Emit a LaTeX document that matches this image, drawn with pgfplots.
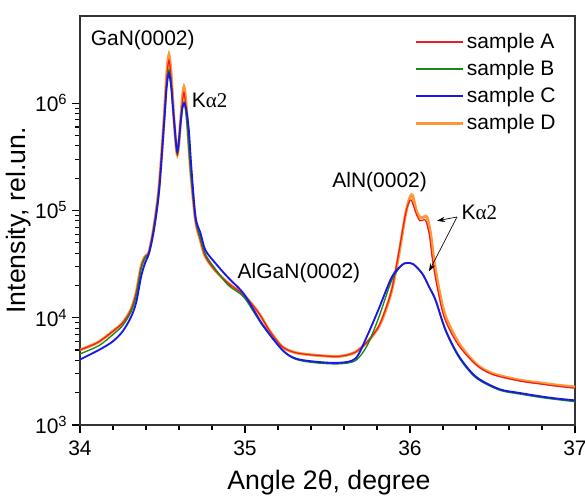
\documentclass[border=0pt]{standalone}
\usepackage{fontspec}
\setmainfont{Liberation Sans}
\newfontfamily\serif{Liberation Serif}
\usepackage{pgfplots}
\pgfplotsset{compat=1.18}
\usetikzlibrary{arrows.meta}

\definecolor{sampleA}{RGB}{235,30,35}
\definecolor{sampleB}{RGB}{25,135,30}
\definecolor{sampleC}{RGB}{25,25,230}
\definecolor{sampleD}{RGB}{255,150,55}

\newcommand{\tfont}{\fontsize{15.75}{18}\selectfont}
\newcommand{\lfont}{\fontsize{20}{24}\selectfont}

\begin{document}
\begin{tikzpicture}
\begin{axis}[
  scale only axis,
  width=371.25pt, height=306.75pt,
  ymode=log,
  xmin=34, xmax=37,
  ymin=1000, ymax=6.5e6,
  xtick={34,35,36,37},
  minor x tick num=4,
  ytick={1e3,1e4,1e5,1e6},
  yticklabels={10\textsuperscript{3},10\textsuperscript{4},10\textsuperscript{5},10\textsuperscript{6}},
  xtick pos=bottom, ytick pos=left,
  tick align=outside,
  major tick length=6pt, minor tick length=3.5pt,
  every tick/.style={black, line width=0.8pt},
  axis line style={line width=1pt, black!80},
  tick label style={font=\tfont},
  xticklabel style={yshift=-2pt},
  /pgf/number format/assume math mode=true,
  xlabel={Angle 2θ, degree},
  ylabel={Intensity, rel.un.},
  label style={font=\lfont},
  xlabel style={at={(axis description cs:0.503,-0.142)}, anchor=center},
  ylabel style={at={(axis description cs:-0.125,0.5)}, anchor=center},
  legend style={at={(axis description cs:0.675,0.965)}, anchor=north west,
    draw=none, fill=none, font=\tfont, row sep=3.4pt, inner sep=0pt},
  legend cell align=left,
  legend image code/.code={\draw[#1] (0pt,0pt) -- (35.25pt,0pt);},
  every axis plot/.append style={smooth, tension=0.5},
]
% sample D (drawn first, underneath)
\addplot[draw=sampleD, line width=2.2pt, forget plot] coordinates {
(34.00,5012) (34.06,5450) (34.115,5970) (34.196,7413) (34.257,8913)
(34.307,11750) (34.34,16980) (34.37,29850) (34.394,37150) (34.418,41210)
(34.448,70790) (34.479,165960) (34.509,691800) (34.525,1.8e6) (34.539,2.818e6)
(34.553,1.8e6) (34.57,691800) (34.59,331100) (34.61,691800) (34.62,1.1e6)
(34.63,1.413e6) (34.64,1.1e6) (34.65,691800) (34.67,237700) (34.70,81280)
(34.73,52480) (34.76,37150) (34.82,27540) (34.90,20890) (34.994,16220)
(35.085,10960) (35.15,7500) (35.226,5370) (35.307,4721) (35.43,4467)
(35.57,4365) (35.67,4786) (35.75,6166) (35.81,8200) (35.85,11500)
(35.89,18200) (35.93,37150) (35.97,87100) (35.994,125000) (36.014,139000)
(36.04,97700) (36.065,85100) (36.09,88100) (36.105,85100) (36.125,60260)
(36.145,34670) (36.176,18200) (36.216,10230) (36.297,5754) (36.40,3715)
(36.50,3020) (36.66,2630) (36.80,2455) (36.90,2344) (37.00,2265)
};
% sample A
\addplot[draw=sampleA, line width=0.9pt, forget plot] coordinates {
(34.00,5012) (34.06,5450) (34.115,5970) (34.196,7413) (34.257,8913)
(34.307,11750) (34.34,16980) (34.37,29850) (34.394,37150) (34.418,41210)
(34.448,70790) (34.479,165960) (34.509,691800) (34.525,1.65e6) (34.539,2.512e6)
(34.553,1.65e6) (34.57,691800) (34.59,331100) (34.61,691800) (34.62,1.0e6)
(34.63,1.259e6) (34.64,1.0e6) (34.65,691800) (34.67,237700) (34.70,81280)
(34.73,52480) (34.76,37150) (34.82,27540) (34.90,20890) (34.994,16220)
(35.085,10960) (35.15,7500) (35.226,5370) (35.307,4721) (35.43,4467)
(35.57,4365) (35.67,4786) (35.75,6166) (35.81,8300) (35.85,11800)
(35.89,18500) (35.93,39000) (35.97,88000) (35.99,115000) (36.008,125000)
(36.035,95000) (36.06,80000) (36.085,82000) (36.098,78500) (36.118,58000)
(36.138,33000) (36.17,17500) (36.21,9800) (36.29,5650) (36.40,3650)
(36.50,2960) (36.66,2580) (36.80,2400) (36.90,2290) (37.00,2200)
};
% sample B
\addplot[draw=sampleB, line width=1pt, forget plot] coordinates {
(34.00,4600) (34.115,5500) (34.196,6900) (34.257,8400) (34.307,11200)
(34.34,16000) (34.37,28500) (34.394,36000) (34.418,40500) (34.448,70000)
(34.479,160000) (34.509,660000) (34.525,1.5e6) (34.539,2.042e6) (34.553,1.5e6)
(34.57,680000) (34.59,340000) (34.61,670000) (34.62,880000) (34.63,1.023e6)
(34.64,850000) (34.65,600000) (34.67,235000) (34.70,83000) (34.73,55000)
(34.76,39000) (34.82,28500) (34.90,20000) (34.994,15500) (35.105,8511)
(35.226,5012) (35.307,4100) (35.43,3800) (35.57,3720) (35.67,3990)
(35.74,5500) (35.81,10000) (35.89,22500) (35.95,30900) (35.98,32360)
(36.02,31600) (36.075,25700) (36.115,19500) (36.155,14400) (36.216,7500)
(36.297,4250) (36.40,2750) (36.54,2120) (36.66,1950) (36.80,1800)
(36.90,1720) (37.00,1650)
};
% sample C
\addplot[draw=sampleC, line width=1.4pt, forget plot] coordinates {
(34.00,4074) (34.115,5012) (34.196,5970) (34.257,7413) (34.307,10000)
(34.34,13800) (34.37,23990) (34.394,32360) (34.418,39810) (34.448,66000)
(34.479,150000) (34.509,630000) (34.525,1.4e6) (34.539,1.905e6) (34.553,1.4e6)
(34.57,691800) (34.59,354800) (34.61,660000) (34.62,900000) (34.632,1.0e6)
(34.645,850000) (34.66,550000) (34.675,250000) (34.70,87100) (34.73,61660)
(34.76,42660) (34.82,32360) (34.90,23440) (34.994,16600) (35.105,8700)
(35.226,5012) (35.307,4169) (35.43,3890) (35.57,3802) (35.67,4169)
(35.74,6760) (35.81,12020) (35.89,23990) (35.95,30900) (35.98,32360)
(36.02,31600) (36.075,25700) (36.115,19500) (36.155,14620) (36.216,7674)
(36.297,4365) (36.40,2818) (36.54,2163) (36.66,1995) (36.80,1841)
(36.90,1758) (37.00,1698)
};
\addlegendimage{draw=sampleA, line width=1pt}
\addlegendentry{sample A}
\addlegendimage{draw=sampleB, line width=1pt}
\addlegendentry{sample B}
\addlegendimage{draw=sampleC, line width=1.4pt}
\addlegendentry{sample C}
\addlegendimage{draw=sampleD, line width=2.2pt}
\addlegendentry{sample D}

\node[font=\tfont] at (axis cs:34.38,3.9e6) {GaN(0002)};
\node[font=\tfont] at (axis cs:34.785,1.07e6) {K{\serif α2}};
\node[font=\tfont] at (axis cs:35.327,2.6e4) {AlGaN(0002)};
\node[font=\tfont] at (axis cs:35.816,1.84e5) {AlN(0002)};
\node[font=\tfont] at (axis cs:36.42,9.5e4) {K{\serif α2}};
\draw[line width=0.5pt, -{Stealth[length=6pt,width=4pt]}] (axis cs:36.285,8.7e4) -- (axis cs:36.164,8.0e4);
\draw[line width=0.5pt, -{Stealth[length=6pt,width=4pt]}] (axis cs:36.285,8.7e4) -- (axis cs:36.115,2.7e4);
\end{axis}
\pgfresetboundingbox
\path ([xshift=-60pt,yshift=-53.25pt]current axis.south west) rectangle ([xshift=7.5pt,yshift=12pt]current axis.north east);
\end{tikzpicture}
\end{document}
